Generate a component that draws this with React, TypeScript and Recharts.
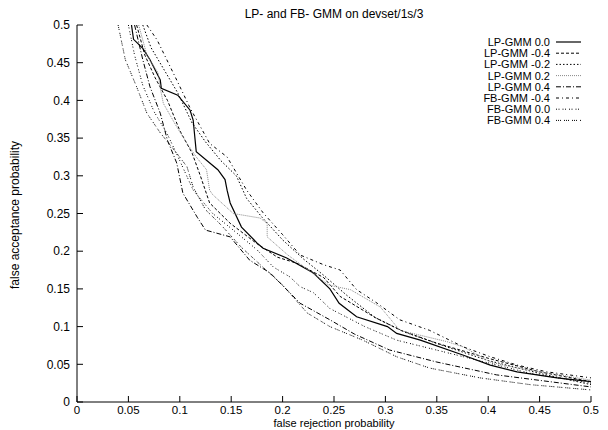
import { LineChart, Line, XAxis, YAxis, Legend } from 'recharts';

// false rejection (x) vs false acceptance (y)
const lpGmm00 = [
  { x: 0.053, y: 0.5 }, { x: 0.055, y: 0.481 }, { x: 0.064, y: 0.469 }, { x: 0.071, y: 0.454 },
  { x: 0.081, y: 0.427 }, { x: 0.082, y: 0.416 }, { x: 0.098, y: 0.407 }, { x: 0.11, y: 0.387 },
  { x: 0.113, y: 0.374 }, { x: 0.116, y: 0.332 }, { x: 0.137, y: 0.308 }, { x: 0.144, y: 0.295 },
  { x: 0.146, y: 0.281 }, { x: 0.149, y: 0.264 }, { x: 0.16, y: 0.232 }, { x: 0.175, y: 0.211 },
  { x: 0.181, y: 0.204 }, { x: 0.204, y: 0.191 }, { x: 0.23, y: 0.171 }, { x: 0.246, y: 0.15 },
  { x: 0.255, y: 0.131 }, { x: 0.272, y: 0.113 }, { x: 0.302, y: 0.1 }, { x: 0.311, y: 0.091 },
  { x: 0.334, y: 0.082 }, { x: 0.376, y: 0.062 }, { x: 0.402, y: 0.049 }, { x: 0.428, y: 0.04 },
  { x: 0.467, y: 0.032 }, { x: 0.5, y: 0.027 },
];
const lpGmmM04 = [
  { x: 0.058, y: 0.5 }, { x: 0.066, y: 0.46 }, { x: 0.076, y: 0.43 }, { x: 0.088, y: 0.4 },
  { x: 0.1, y: 0.36 }, { x: 0.112, y: 0.33 }, { x: 0.12, y: 0.3 }, { x: 0.129, y: 0.264 },
  { x: 0.149, y: 0.237 }, { x: 0.175, y: 0.21 }, { x: 0.195, y: 0.192 }, { x: 0.214, y: 0.184 },
  { x: 0.24, y: 0.165 }, { x: 0.256, y: 0.14 }, { x: 0.29, y: 0.112 }, { x: 0.315, y: 0.095 },
  { x: 0.35, y: 0.078 }, { x: 0.4, y: 0.058 }, { x: 0.45, y: 0.04 }, { x: 0.5, y: 0.027 },
];
const lpGmmM02 = [
  { x: 0.064, y: 0.5 }, { x: 0.072, y: 0.47 }, { x: 0.085, y: 0.44 }, { x: 0.098, y: 0.41 },
  { x: 0.112, y: 0.37 }, { x: 0.125, y: 0.345 }, { x: 0.14, y: 0.32 }, { x: 0.155, y: 0.3 },
  { x: 0.165, y: 0.27 }, { x: 0.18, y: 0.245 }, { x: 0.2, y: 0.215 }, { x: 0.22, y: 0.19 },
  { x: 0.24, y: 0.168 }, { x: 0.262, y: 0.142 }, { x: 0.29, y: 0.112 }, { x: 0.32, y: 0.092 },
  { x: 0.36, y: 0.073 }, { x: 0.4, y: 0.055 }, { x: 0.45, y: 0.038 }, { x: 0.5, y: 0.023 },
];
const lpGmm02 = [
  { x: 0.06, y: 0.5 }, { x: 0.068, y: 0.46 }, { x: 0.079, y: 0.436 }, { x: 0.081, y: 0.416 },
  { x: 0.084, y: 0.396 }, { x: 0.097, y: 0.365 }, { x: 0.107, y: 0.343 }, { x: 0.116, y: 0.325 },
  { x: 0.126, y: 0.308 }, { x: 0.129, y: 0.281 }, { x: 0.132, y: 0.275 }, { x: 0.152, y: 0.25 },
  { x: 0.178, y: 0.244 }, { x: 0.185, y: 0.237 }, { x: 0.185, y: 0.219 }, { x: 0.205, y: 0.195 },
  { x: 0.23, y: 0.17 }, { x: 0.245, y: 0.155 }, { x: 0.266, y: 0.149 }, { x: 0.295, y: 0.126 },
  { x: 0.3, y: 0.118 }, { x: 0.314, y: 0.095 }, { x: 0.36, y: 0.08 }, { x: 0.376, y: 0.073 },
  { x: 0.402, y: 0.053 }, { x: 0.428, y: 0.045 }, { x: 0.5, y: 0.029 },
];
const lpGmm04 = [
  { x: 0.056, y: 0.5 }, { x: 0.064, y: 0.454 }, { x: 0.071, y: 0.418 }, { x: 0.081, y: 0.383 },
  { x: 0.088, y: 0.347 }, { x: 0.097, y: 0.317 }, { x: 0.103, y: 0.277 }, { x: 0.117, y: 0.245 },
  { x: 0.125, y: 0.228 }, { x: 0.149, y: 0.219 }, { x: 0.168, y: 0.188 }, { x: 0.188, y: 0.171 },
  { x: 0.207, y: 0.145 }, { x: 0.217, y: 0.131 }, { x: 0.246, y: 0.109 }, { x: 0.27, y: 0.09 },
  { x: 0.304, y: 0.069 }, { x: 0.35, y: 0.053 }, { x: 0.408, y: 0.036 }, { x: 0.5, y: 0.02 },
];
const fbGmmM04 = [
  { x: 0.068, y: 0.5 }, { x: 0.078, y: 0.48 }, { x: 0.097, y: 0.427 }, { x: 0.11, y: 0.39 },
  { x: 0.129, y: 0.343 }, { x: 0.146, y: 0.325 }, { x: 0.165, y: 0.281 }, { x: 0.181, y: 0.251 },
  { x: 0.2, y: 0.222 }, { x: 0.217, y: 0.195 }, { x: 0.24, y: 0.182 }, { x: 0.256, y: 0.175 },
  { x: 0.272, y: 0.149 }, { x: 0.292, y: 0.131 }, { x: 0.314, y: 0.109 }, { x: 0.343, y: 0.095 },
  { x: 0.376, y: 0.073 }, { x: 0.402, y: 0.06 }, { x: 0.428, y: 0.049 }, { x: 0.457, y: 0.04 },
  { x: 0.5, y: 0.032 },
];
const fbGmm00 = [
  { x: 0.05, y: 0.5 }, { x: 0.056, y: 0.46 }, { x: 0.064, y: 0.42 }, { x: 0.075, y: 0.385 },
  { x: 0.088, y: 0.355 }, { x: 0.1, y: 0.32 }, { x: 0.113, y: 0.281 }, { x: 0.132, y: 0.25 },
  { x: 0.152, y: 0.228 }, { x: 0.175, y: 0.202 }, { x: 0.191, y: 0.179 }, { x: 0.207, y: 0.166 },
  { x: 0.217, y: 0.153 }, { x: 0.23, y: 0.145 }, { x: 0.246, y: 0.124 }, { x: 0.28, y: 0.1 },
  { x: 0.311, y: 0.082 }, { x: 0.376, y: 0.06 }, { x: 0.441, y: 0.038 }, { x: 0.5, y: 0.025 },
];
const fbGmm04 = [
  { x: 0.04, y: 0.5 }, { x: 0.047, y: 0.454 }, { x: 0.058, y: 0.418 }, { x: 0.068, y: 0.383 },
  { x: 0.081, y: 0.357 }, { x: 0.097, y: 0.33 }, { x: 0.107, y: 0.312 }, { x: 0.113, y: 0.285 },
  { x: 0.125, y: 0.255 }, { x: 0.14, y: 0.235 }, { x: 0.16, y: 0.205 }, { x: 0.18, y: 0.18 },
  { x: 0.2, y: 0.155 }, { x: 0.224, y: 0.118 }, { x: 0.246, y: 0.1 }, { x: 0.278, y: 0.082 },
  { x: 0.311, y: 0.06 }, { x: 0.343, y: 0.045 }, { x: 0.392, y: 0.032 }, { x: 0.441, y: 0.023 },
  { x: 0.5, y: 0.016 },
];

const ticks = [0, 0.05, 0.1, 0.15, 0.2, 0.25, 0.3, 0.35, 0.4, 0.45, 0.5];

const series = [
  { name: 'LP-GMM 0.0', data: lpGmm00, dash: undefined, color: '#000', width: 1.2 },
  { name: 'LP-GMM -0.4', data: lpGmmM04, dash: '3 2', color: '#000', width: 1 },
  { name: 'LP-GMM -0.2', data: lpGmmM02, dash: '1.5 2', color: '#000', width: 1 },
  { name: 'LP-GMM 0.2', data: lpGmm02, dash: '1 1', color: '#888', width: 1 },
  { name: 'LP-GMM 0.4', data: lpGmm04, dash: '5 2 1 2', color: '#000', width: 1 },
  { name: 'FB-GMM -0.4', data: fbGmmM04, dash: '3 3 1 3', color: '#000', width: 1 },
  { name: 'FB-GMM 0.0', data: fbGmm00, dash: '1 1.5 1 3', color: '#000', width: 1 },
  { name: 'FB-GMM 0.4', data: fbGmm04, dash: '1 1 1 1 1 3', color: '#000', width: 1 },
];

const font = '"Liberation Sans", Arial, sans-serif';

function LegendBox() {
  return (
    <svg width={190} height={100} style={{ fontFamily: font, fontSize: 11 }}>
      {series.map((s, i) => {
        const cy = 12 + i * 11.2;
        return (
          <g key={s.name}>
            <text x={150} y={cy + 4} textAnchor="end" fill="#000">{s.name}</text>
            <line x1={156} x2={181} y1={cy} y2={cy} stroke={s.color} strokeWidth={s.width} strokeDasharray={s.dash} />
          </g>
        );
      })}
    </svg>
  );
}

export default function App() {
  const tickStyle = { fill: '#000', fontSize: 12, fontFamily: font };
  return (
    <div style={{ position: 'absolute', left: 0, top: 0, width: 608, height: 430, background: '#fff', fontFamily: font }}>
      <LineChart width={608} height={430} margin={{ top: 25, right: 17, bottom: 8, left: 0 }}>
        <XAxis type="number" dataKey="x" domain={[0, 0.5]} ticks={ticks} tick={{ ...tickStyle, fontSize: 11.5 }}
          tickSize={-6} tickMargin={10} height={20} stroke="#000" allowDataOverflow />
        <XAxis xAxisId="top" orientation="top" type="number" domain={[0, 0.5]} ticks={ticks}
          tickFormatter={() => ''} tickSize={-6} height={0} stroke="#000" />
        <YAxis type="number" domain={[0, 0.5]} ticks={ticks} tick={tickStyle}
          tickSize={-6} tickMargin={13} width={77} stroke="#000" allowDataOverflow />
        <YAxis yAxisId="right" orientation="right" type="number" domain={[0, 0.5]} ticks={ticks}
          tickFormatter={() => ''} tickSize={-6} width={0} stroke="#000" />
        <Legend layout="vertical" align="center" verticalAlign="middle" content={<LegendBox />}
          wrapperStyle={{ left: 400, top: 30, width: 190, height: 100 }} />
        {series.map((s) => (
          <Line key={s.name} name={s.name} data={s.data} dataKey="y" type="linear" stroke={s.color}
            strokeWidth={s.width} strokeDasharray={s.dash} dot={false} isAnimationActive={false} />
        ))}
        <text x={334} y={18} textAnchor="middle" fontSize={12} fontFamily={font} fill="#000">
          LP- and FB- GMM on devset/1s/3
        </text>
        <text x={334} y={427} textAnchor="middle" fontSize={11} fontFamily={font} fill="#000">
          false rejection probability
        </text>
        <text x={19} y={215} textAnchor="middle" fontSize={12} fontFamily={font} fill="#000"
          transform="rotate(-90 19 215)">
          false acceptance probability
        </text>
      </LineChart>
    </div>
  );
}
